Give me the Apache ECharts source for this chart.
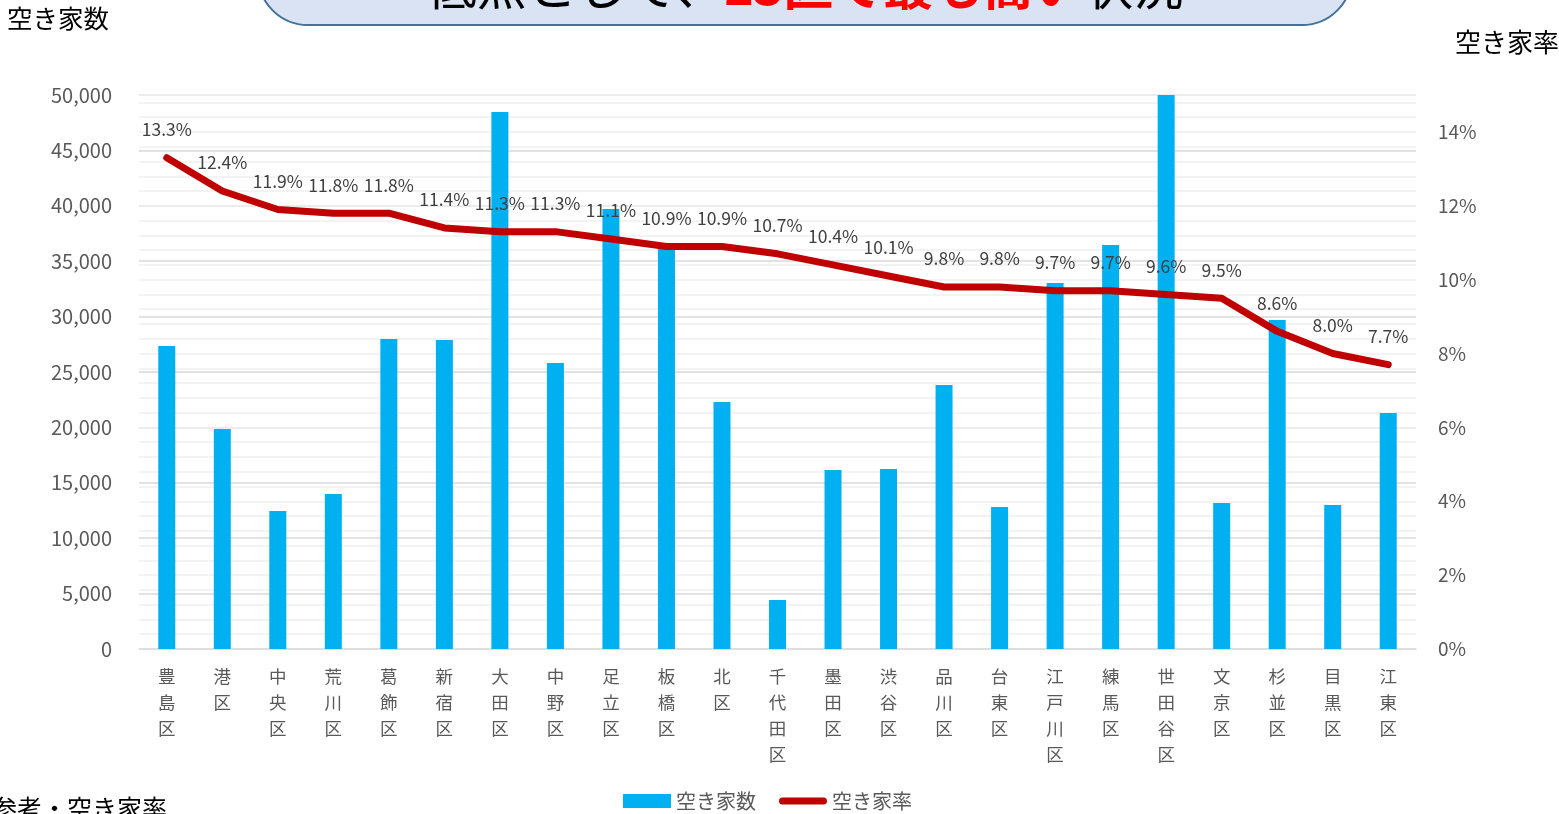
<!DOCTYPE html>
<html>
<head>
<meta charset="utf-8">
<script src="https://cdn.jsdelivr.net/npm/echarts@6/dist/echarts.min.js"></script>
<style>
html,body{margin:0;padding:0;background:#fff;}
#c{width:1559px;height:814px;}
</style>
</head>
<body>
<div id="c"></div>
<script>
const categories = ['豊島区','港区','中央区','荒川区','葛飾区','新宿区','大田区','中野区','足立区','板橋区','北区','千代田区','墨田区','渋谷区','品川区','台東区','江戸川区','練馬区','世田谷区','文京区','杉並区','目黒区','江東区'];
const vacantHouses = [27350,19860,12450,13990,27980,27890,48470,25810,39710,36160,22290,4420,16160,16250,23830,12820,33030,36460,50000,13180,29690,13000,21300];
const vacancyRate = [13.3,12.4,11.9,11.8,11.8,11.4,11.3,11.3,11.1,10.9,10.9,10.7,10.4,10.1,9.8,9.8,9.7,9.7,9.6,9.5,8.6,8.0,7.7];
const leftTicks = {min:0, max:50000, interval:5000};
const rightTicks = {min:0, max:15, interval:2};

const FONT = '"Noto Sans CJK JP", "Noto Sans", sans-serif';
const chart = echarts.init(document.getElementById('c'));
chart.setOption({
  animation:false,
  textStyle:{fontFamily:FONT},
  grid:{left:139, right:143, top:95, bottom:165},
  legend:{
    top:786, left:618, itemGap:23, itemWidth:48, itemHeight:14,
    textStyle:{fontSize:20, color:'#595959', fontFamily:FONT},
    data:[
      {name:'空き家数', icon:'rect'},
      {name:'空き家率', icon:'path://M3.5,0 L44.5,0 A3.5,3.5 0 0 1 44.5,7 L3.5,7 A3.5,3.5 0 0 1 3.5,0 Z', itemStyle:{color:'#c00000'}}
    ]
  },
  xAxis:{
    type:'category', data:categories,
    axisTick:{show:false},
    axisLine:{lineStyle:{color:'#d9d9d9', width:1.5}},
    axisLabel:{
      interval:0, margin:14, color:'#595959', fontSize:17.5, lineHeight:26, fontFamily:FONT,
      formatter:v=>v.split('').join('\n'), verticalAlign:'top'
    }
  },
  yAxis:[
    {type:'value', min:leftTicks.min, max:leftTicks.max, interval:leftTicks.interval,
     axisLabel:{margin:27, color:'#595959', fontSize:20, fontFamily:FONT,
       formatter:v=>v.toLocaleString('en-US')},
     axisLine:{show:false}, axisTick:{show:false},
     splitLine:{lineStyle:{color:'#d9d9d9', width:1.5}}},
    {type:'value', min:rightTicks.min, max:rightTicks.max, interval:rightTicks.interval,
     axisLabel:{margin:22, color:'#595959', fontSize:19, fontFamily:FONT, showMaxLabel:false,
       formatter:v=>v+'%'},
     axisLine:{show:false}, axisTick:{show:false},
     splitLine:{show:true, lineStyle:{color:'#efefef', width:1.5}},
     minorTick:{show:false, splitNumber:5},
     minorSplitLine:{show:true, lineStyle:{color:'#efefef', width:1.5}}}
  ],
  series:[
    {name:'空き家数', type:'bar', data:vacantHouses, barWidth:17,
     itemStyle:{color:'#00b0f0'}},
    {name:'空き家率', type:'line', yAxisIndex:1, data:vacancyRate,
     symbol:'circle', symbolSize:1, showSymbol:true,
     lineStyle:{color:'#c00000', width:7, cap:'round', join:'round'},
     itemStyle:{color:'#c00000'},
     label:{show:true, position:'top', distance:19, color:'#404040', fontSize:17.5, fontFamily:FONT,
       formatter:p=>p.value.toFixed(1)+'%'}}
  ],
  graphic:[
    {type:'rect', shape:{x:258, y:-80, width:1094, height:105, r:50},
     style:{fill:'#dae3f3', stroke:'#41719c', lineWidth:2}, z:10},
    {type:'text', x:805, y:-14, z:11,
     style:{text:'{b|低点として、}{r|23区で最も高い}{b|状況}', align:'center', verticalAlign:'middle',
       rich:{b:{fontSize:50, fill:'#000', fontFamily:FONT},
             r:{fontSize:50, fill:'#ff0000', fontWeight:'bold', fontFamily:FONT}}}},
    {type:'text', x:7, y:18, style:{text:'空き家数', fontSize:25.5, fill:'#000', fontFamily:FONT, verticalAlign:'middle'}},
    {type:'text', x:1455, y:42, style:{text:'空き家率', fontSize:26, fill:'#000', fontFamily:FONT, verticalAlign:'middle'}},
    {type:'text', x:-8, y:808, style:{text:'参考・空き家率', fontSize:25, fill:'#000', fontFamily:FONT, verticalAlign:'middle'}}
  ]
});
</script>
</body>
</html>
